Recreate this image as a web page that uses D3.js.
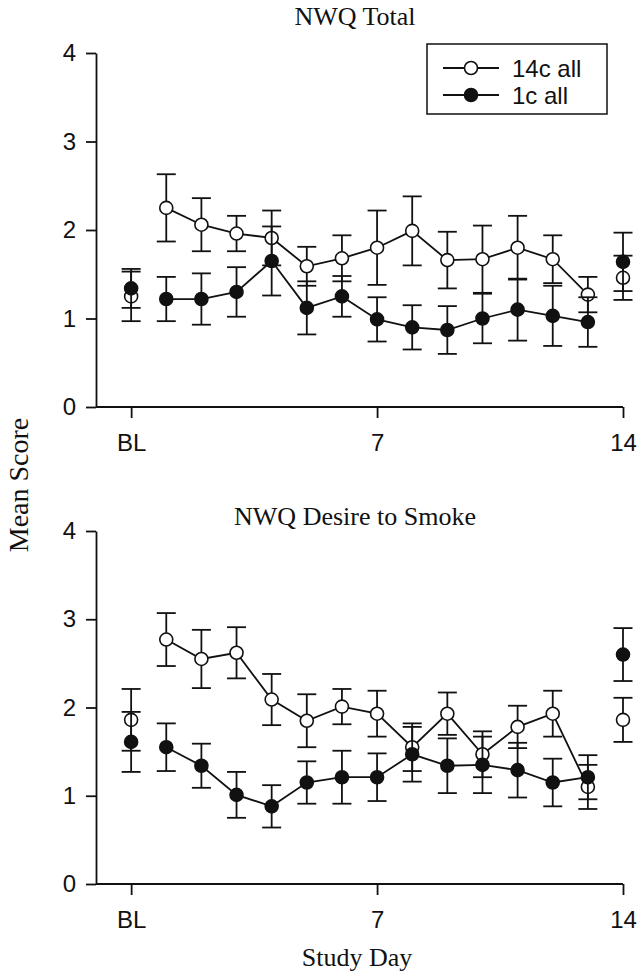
<!DOCTYPE html>
<html>
<head>
<meta charset="utf-8">
<script src="https://cdn.jsdelivr.net/npm/d3@7"></script>
<style>
  html, body { margin: 0; padding: 0; background: #fff; }
  svg { display: block; }
  .tick text { font-family: "Liberation Sans", Arial, sans-serif; font-size: 24px; fill: #111; }
  .domain, .tick line { stroke: #111; stroke-width: 1.8; }
  .serif { font-family: "Liberation Serif", "Times New Roman", serif; font-size: 26px; fill: #111; }
  .ylabel { font-size: 28px; }
  .legend-text { font-family: "Liberation Sans", Arial, sans-serif; font-size: 24px; fill: #111; }
</style>
</head>
<body>
<svg id="chart" width="640" height="978"></svg>
<script>
// Study days: 0 = baseline (BL), 1..14
const days = [0, 1, 2, 3, 4, 5, 6, 7, 8, 9, 10, 11, 12, 13, 14];
const xTickValues = [0, 7, 14];
const xTickLabels = ["BL", "7", "14"];
const yTickValues = [0, 1, 2, 3, 4];
const seriesNames = ["14c all", "1c all"];
const panelTitles = ["NWQ Total", "NWQ Desire to Smoke"];

// NWQ Total: means and standard errors
const totalOpen      = [1.25, 2.25, 2.06, 1.96, 1.91, 1.59, 1.68, 1.80, 1.99, 1.66, 1.67, 1.80, 1.67, 1.27, 1.46];
const totalOpenErr   = [0.28, 0.38, 0.30, 0.20, 0.31, 0.22, 0.26, 0.42, 0.39, 0.32, 0.38, 0.36, 0.27, 0.20, 0.25];
const totalFilled    = [1.34, 1.22, 1.22, 1.30, 1.65, 1.12, 1.25, 0.99, 0.90, 0.87, 1.00, 1.10, 1.03, 0.96, 1.64];
const totalFilledErr = [0.22, 0.25, 0.29, 0.28, 0.39, 0.30, 0.23, 0.25, 0.25, 0.27, 0.28, 0.35, 0.34, 0.28, 0.33];

// NWQ Desire to Smoke: means and standard errors
const desireOpen      = [1.86, 2.77, 2.55, 2.62, 2.09, 1.85, 2.01, 1.93, 1.55, 1.93, 1.47, 1.78, 1.93, 1.10, 1.86];
const desireOpenErr   = [0.35, 0.30, 0.33, 0.29, 0.29, 0.30, 0.20, 0.26, 0.27, 0.24, 0.26, 0.24, 0.26, 0.25, 0.25];
const desireFilled    = [1.61, 1.55, 1.34, 1.01, 0.88, 1.15, 1.21, 1.21, 1.47, 1.34, 1.35, 1.29, 1.15, 1.21, 2.60];
const desireFilledErr = [0.34, 0.27, 0.25, 0.26, 0.24, 0.24, 0.30, 0.27, 0.31, 0.31, 0.32, 0.31, 0.27, 0.25, 0.30];

const svg = d3.select("#chart");
const ink = "#111";
const markerR = 6.5;
const capHalf = 9.5;

const x = d3.scaleLinear().domain([-1, 14]).range([96, 623]);

const panels = [
  { title: panelTitles[0], top: 53, bottom: 407, titleY: 25,
    series: [
      { name: seriesNames[0], mean: totalOpen, err: totalOpenErr, fill: "#fff" },
      { name: seriesNames[1], mean: totalFilled, err: totalFilledErr, fill: ink }
    ] },
  { title: panelTitles[1], top: 531, bottom: 884, titleY: 525,
    series: [
      { name: seriesNames[0], mean: desireOpen, err: desireOpenErr, fill: "#fff" },
      { name: seriesNames[1], mean: desireFilled, err: desireFilledErr, fill: ink }
    ] }
];

panels.forEach((p, pi) => {
  const y = d3.scaleLinear().domain([0, 4]).range([p.bottom, p.top]);
  const g = svg.append("g");

  g.append("g")
    .attr("transform", `translate(0,${p.bottom})`)
    .call(d3.axisBottom(x).tickValues(xTickValues)
      .tickFormat((d, i) => xTickLabels[i]).tickSize(11).tickSizeOuter(0).tickPadding(16))
    .call(a => a.select(".domain").attr("d", `M${x(-1)},0H${x(14)}`));

  g.append("g")
    .attr("transform", `translate(${x(-1)},0)`)
    .call(d3.axisLeft(y).tickValues(yTickValues).tickFormat(d3.format("d"))
      .tickSize(10).tickSizeOuter(0).tickPadding(10));

  svg.append("text").attr("class", "serif")
    .attr("x", 355).attr("y", p.titleY)
    .attr("text-anchor", "middle").text(p.title);

  p.series.forEach(s => {
    const pts = days.map((d, i) => ({ d, m: s.mean[i], e: s.err[i] }));
    const connected = pts.filter(o => o.d >= 1 && o.d <= 13);
    const sg = g.append("g");

    sg.append("path")
      .attr("d", d3.line().x(o => x(o.d)).y(o => y(o.m))(connected))
      .attr("fill", "none").attr("stroke", ink).attr("stroke-width", 1.8);

    const eb = sg.selectAll(".eb").data(pts).join("g");
    eb.append("line")
      .attr("x1", o => x(o.d)).attr("x2", o => x(o.d))
      .attr("y1", o => y(o.m + o.e)).attr("y2", o => y(o.m - o.e));
    eb.append("line")
      .attr("x1", o => x(o.d) - capHalf).attr("x2", o => x(o.d) + capHalf)
      .attr("y1", o => y(o.m + o.e)).attr("y2", o => y(o.m + o.e));
    eb.append("line")
      .attr("x1", o => x(o.d) - capHalf).attr("x2", o => x(o.d) + capHalf)
      .attr("y1", o => y(o.m - o.e)).attr("y2", o => y(o.m - o.e));
    eb.selectAll("line").attr("stroke", ink).attr("stroke-width", 1.8);

    sg.selectAll("circle").data(pts).join("circle")
      .attr("cx", o => x(o.d)).attr("cy", o => y(o.m)).attr("r", markerR)
      .attr("fill", s.fill).attr("stroke", ink).attr("stroke-width", 1.6);
  });

  // Legend in the upper panel only
  if (pi === 0) {
    const lg = svg.append("g");
    lg.append("rect").attr("x", 427).attr("y", 44).attr("width", 180).attr("height", 70)
      .attr("fill", "#fff").attr("stroke", ink).attr("stroke-width", 1.5);
    p.series.forEach((s, i) => {
      const ly = 68 + i * 27;
      lg.append("line").attr("x1", 443).attr("x2", 499).attr("y1", ly).attr("y2", ly)
        .attr("stroke", ink).attr("stroke-width", 1.8);
      lg.append("circle").attr("cx", 471).attr("cy", ly).attr("r", markerR)
        .attr("fill", s.fill).attr("stroke", ink).attr("stroke-width", 1.6);
      lg.append("text").attr("class", "legend-text")
        .attr("x", 512).attr("y", ly).attr("dy", "0.36em").text(s.name);
    });
  }
});

svg.append("text").attr("class", "serif ylabel")
  .attr("transform", "translate(28,485) rotate(-90)")
  .attr("text-anchor", "middle").text("Mean Score");

svg.append("text").attr("class", "serif")
  .attr("x", 357).attr("y", 966)
  .attr("text-anchor", "middle").text("Study Day");
</script>
</body>
</html>
